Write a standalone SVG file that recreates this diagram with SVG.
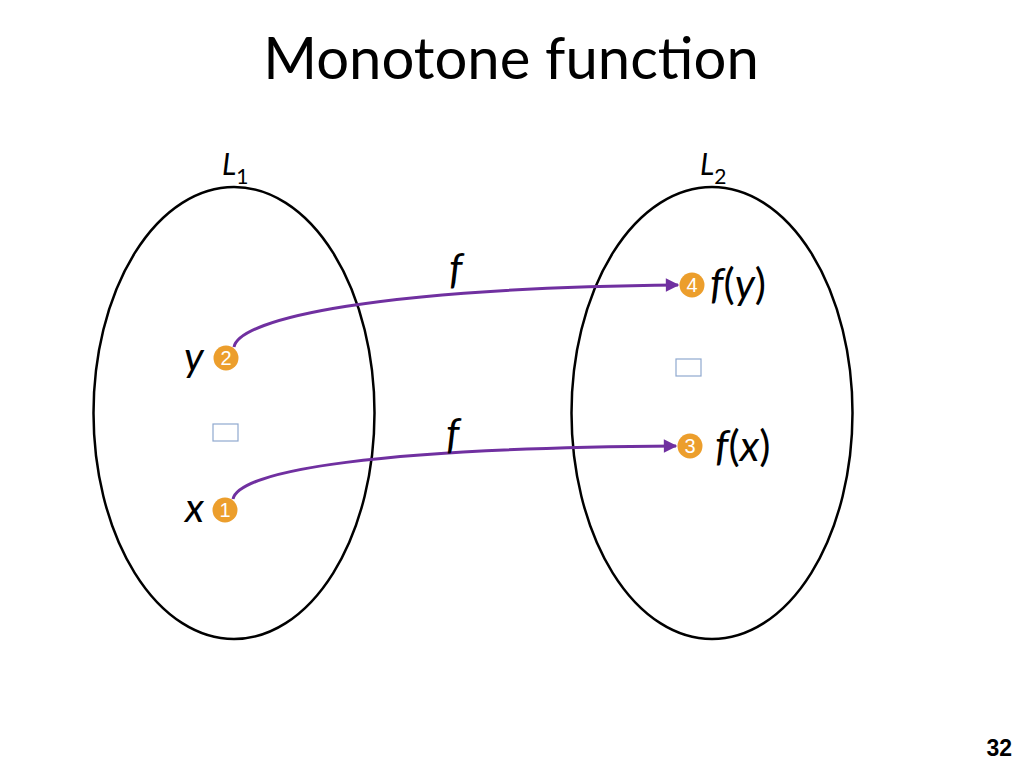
<svg xmlns="http://www.w3.org/2000/svg" width="1024" height="768" viewBox="0 0 1024 768">
<defs>
<style>
.t{font-family:Lato,"Open Sans","Liberation Sans",sans-serif;fill:#000}
.i{font-style:italic}
.set{fill:none;stroke:#000;stroke-width:2.5}
.dot{fill:#EC9E2C}
.num{font-family:"Liberation Sans",Arial,sans-serif;font-size:20px;fill:#fff;text-anchor:middle}
.sq{fill:#fff;stroke:#8FA9CF;stroke-width:1.2}
.arc{fill:none;stroke:#7030A0;stroke-width:3}
</style>
<marker id="ah" viewBox="0 0 10 10" refX="9" refY="5" markerWidth="5" markerHeight="4.5" orient="auto" markerUnits="strokeWidth">
<path d="M0,0 L10,5 L0,10 z" fill="#7030A0"/>
</marker>
</defs>
<rect width="1024" height="768" fill="#fff"/>
<text class="t" x="511" y="79" font-size="58" text-anchor="middle">Monotone function</text>
<g id="L1">
<ellipse class="set" cx="234" cy="413" rx="140.5" ry="226"/>
<text class="t i" x="222" y="175" font-size="30">L<tspan font-style="normal" font-size="21" dy="9">1</tspan></text>
</g>
<g id="L2">
<ellipse class="set" cx="712" cy="413" rx="140.5" ry="226"/>
<text class="t i" x="700" y="175" font-size="30">L<tspan font-style="normal" font-size="21" dy="9">2</tspan></text>
</g>
<g id="y">
<circle class="dot" cx="226" cy="358" r="12.5"/>
<text class="num" x="226" y="365">2</text>
<text class="t i" x="184" y="371" font-size="41">y</text>
</g>
<g id="x">
<circle class="dot" cx="225" cy="510" r="12.5"/>
<text class="num" x="225" y="517">1</text>
<text class="t i" x="185" y="522" font-size="41">x</text>
</g>
<g id="fy">
<circle class="dot" cx="692" cy="285" r="12.5"/>
<text class="num" x="692" y="292">4</text>
<text class="t" x="710" y="299" font-size="42"><tspan font-style="italic">f</tspan>(<tspan font-style="italic">y</tspan>)</text>
</g>
<g id="fx">
<circle class="dot" cx="690" cy="446" r="12.5"/>
<text class="num" x="690" y="453">3</text>
<text class="t" x="715" y="461" font-size="42"><tspan font-style="italic">f</tspan>(<tspan font-style="italic">x</tspan>)</text>
</g>
<g id="dots">
<rect class="sq" x="213" y="424" width="25" height="17"/>
<rect class="sq" x="676" y="359" width="25" height="17"/>
</g>
<g id="connectors">
<path class="arc" d="M234,347 C240,318 380,288 678,285" marker-end="url(#ah)"/>
<path class="arc" d="M233,499 C240,470 380,448 676,446" marker-end="url(#ah)"/>
<text class="t i" x="449" y="284" font-size="42">f</text>
<text class="t i" x="446" y="449" font-size="42">f</text>
</g>
<text x="1012" y="756" font-family="Liberation Sans,Arial,sans-serif" font-weight="bold" font-size="23" text-anchor="end">32</text>
</svg>
